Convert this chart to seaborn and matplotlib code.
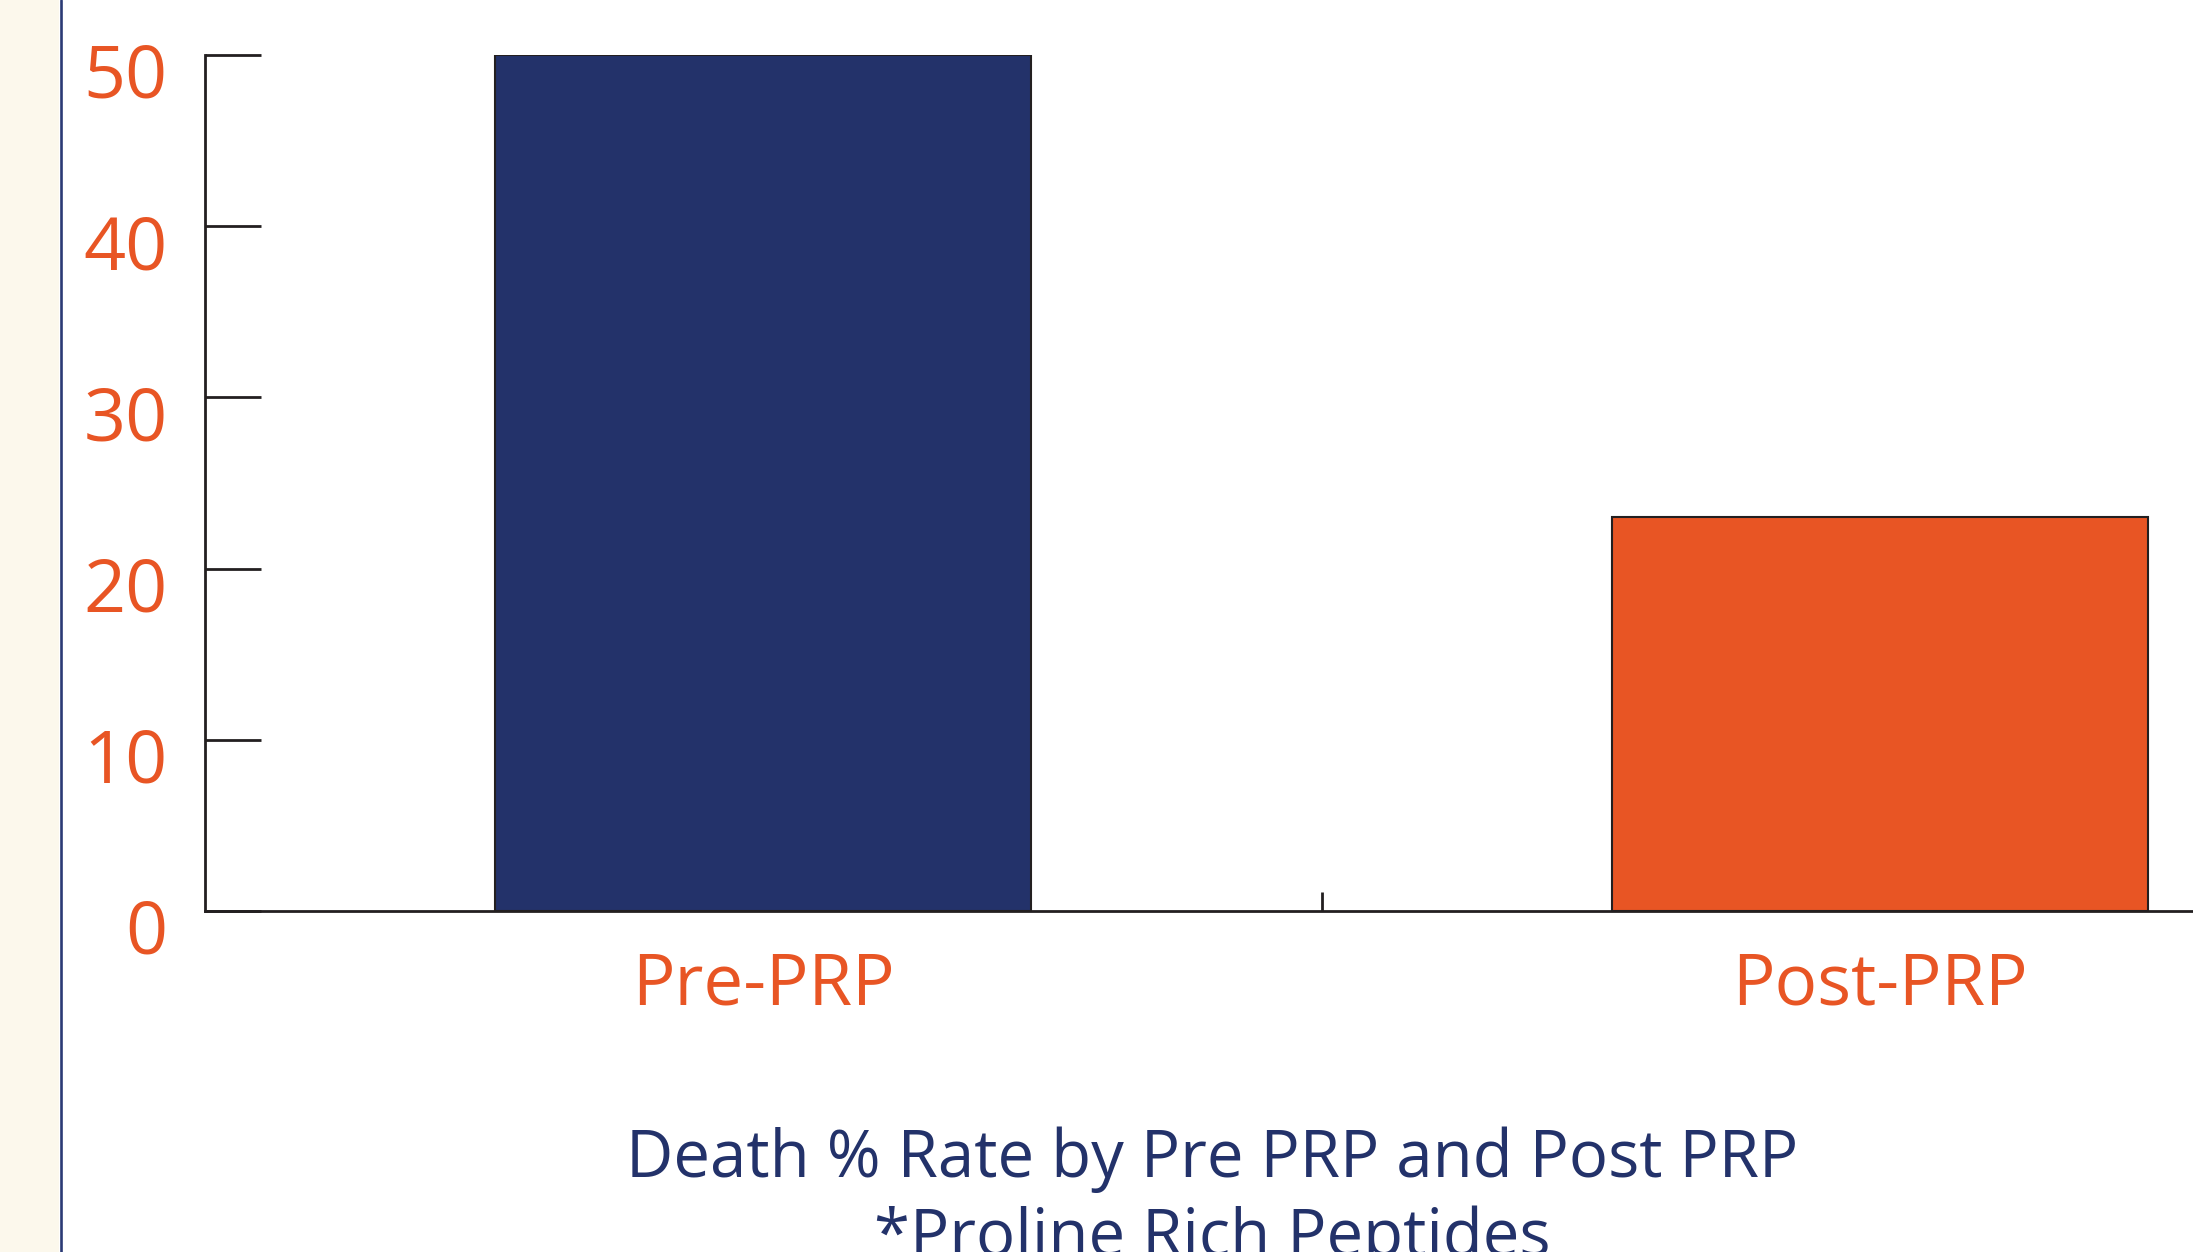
import matplotlib
matplotlib.use("Agg")
import matplotlib.pyplot as plt
import matplotlib.ticker as mticker
from matplotlib.patches import Rectangle
from matplotlib.lines import Line2D
from matplotlib.transforms import ScaledTranslation
import seaborn as sns

# Data
categories = ["Pre-PRP", "Post-PRP"]
death_rate = [50, 23]
y_ticks = [0, 10, 20, 30, 40, 50]

navy = "#23326A"
orange = "#E85524"
cream = "#FCF8EC"
dark = "#231F20"

sns.set_theme(style="white")
plt.rcParams["font.family"] = ["Open Sans", "DejaVu Sans"]

fig = plt.figure(figsize=(21.93, 12.52), dpi=100)
fig.patch.set_facecolor("white")

# cream strip on the left with navy rule
fig.patches.append(Rectangle((0, 0), 59 / 2193, 1, transform=fig.transFigure,
                             facecolor=cream, edgecolor="none", zorder=0))
fig.lines.append(Line2D([61 / 2193, 61 / 2193], [0, 1], transform=fig.transFigure,
                        color="#2B3A75", linewidth=1.9))

ax = fig.add_axes([205 / 2193, 1 - 911 / 1252, 1 - 205 / 2193, (911 - 55) / 1252])

sns.barplot(x=categories, y=death_rate, hue=categories, palette=[navy, orange],
            saturation=1, legend=False, width=0.48, edgecolor=dark, linewidth=1.5, ax=ax)

ax.set_xlim(-0.5, 1.28)
ax.set_ylim(0, 50)
ax.set_yticks(y_ticks)
ax.set_xlabel("")
ax.set_ylabel("")

for side in ["top", "right"]:
    ax.spines[side].set_visible(False)
for side in ["left", "bottom"]:
    ax.spines[side].set_color(dark)
    ax.spines[side].set_linewidth(2.0)

ax.tick_params(axis="y", direction="in", length=40, width=2.0, color=dark,
               labelsize=53, labelcolor=orange, pad=27, left=True)
ax.tick_params(axis="x", which="major", length=0, labelsize=51, labelcolor=orange, pad=28)
ax.xaxis.set_minor_locator(mticker.FixedLocator([0.5]))
ax.tick_params(axis="x", which="minor", direction="in", length=14, width=2.0,
               color=dark, bottom=True)

# y labels sit slightly below their ticks
offset = ScaledTranslation(0, -15 / 100, fig.dpi_scale_trans)
for lab in ax.get_yticklabels():
    lab.set_transform(lab.get_transform() + offset)

fig.text(1212 / 2193, 1 - 1177 / 1252, "Death % Rate by Pre PRP and Post PRP",
         ha="center", va="baseline", fontsize=47, color=navy)
fig.text(1212 / 2193, 1 - 1256 / 1252, "*Proline Rich Peptides",
         ha="center", va="baseline", fontsize=47, color=navy)

fig.savefig("out.png", dpi=100)
